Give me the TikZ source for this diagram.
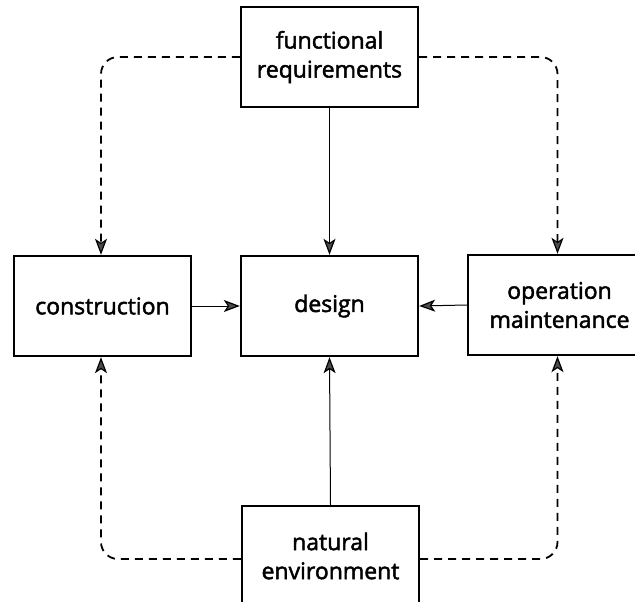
\documentclass[tikz,border=0pt]{standalone}
\usepackage{fontspec}
\setmainfont{Open Sans}[UprightFeatures={FakeBold=2}]
\usetikzlibrary{arrows.meta}
\begin{document}
\begin{tikzpicture}[x=1pt,y=-1pt,
  box/.style={draw,line width=2.4pt,minimum width=177pt,minimum height=100pt,
    align=center,inner sep=0pt,font=\fontsize{23}{29}\selectfont},
  tip/.style={-{Stealth[length=16pt,width=12pt,inset=4pt,line width=1.2pt,fill=black!70]}},
  link/.style={line width=1pt,tip},
  feedback/.style={line width=1.8pt,dash pattern=on 8pt off 6pt,rounded corners=17pt,tip}]
  \useasboundingbox (0,0) rectangle (635,602);
  \clip (0,0) rectangle (635,602);

  % the five boxes
  \node[box] (fr)  at (329.5,57)  {functional\\requirements};
  \node[box] (con) at (102.5,306) {construction};
  \node[box] (des) at (329.5,306) {design};
  \node[box,minimum width=183pt] (op) at (559.5,305) {operation\\maintenance};
  \node[box] (ne)  at (330.5,556) {natural\\environment};

  % direct influences on the design
  \draw[link] (fr.south) -- (des.north);
  \draw[link] (ne.north) -- (des.south);
  \draw[link] (con.east) -- (des.west);
  \draw[link] (op.west) -- (des.east);

  % indirect influences through construction and operation
  \draw[feedback] (fr.west) -| ([xshift=-1.5pt]con.north);
  \draw[feedback] (fr.east) -| ([xshift=-2pt]op.north);
  \draw[feedback] ([yshift=-3pt]ne.west) -| ([xshift=-1.5pt]con.south);
  \draw[feedback] ([yshift=-3pt]ne.east) -| ([xshift=-2pt]op.south);
\end{tikzpicture}
\end{document}
